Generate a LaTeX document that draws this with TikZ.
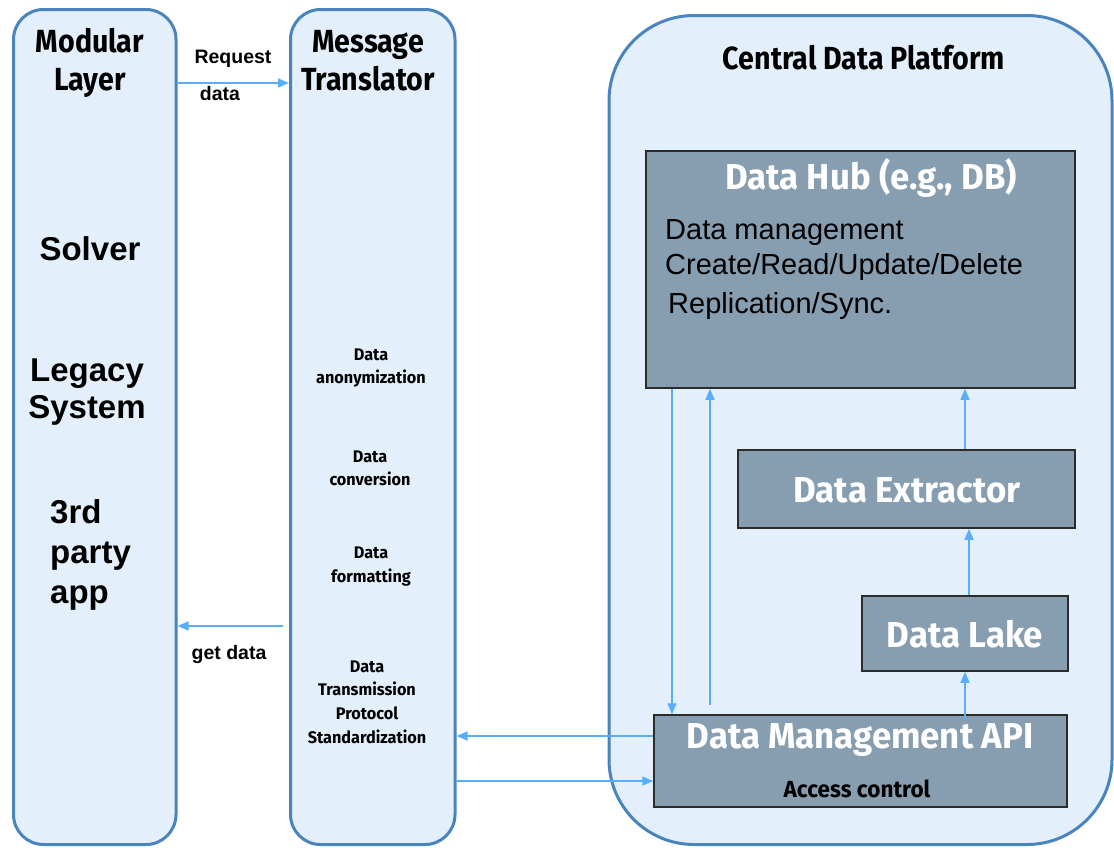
\documentclass[tikz,border=0pt]{standalone}
\usepackage{fontspec}
\setmainfont{Liberation Sans}
\newfontfamily\fira{Fira Sans}[FakeStretch=0.967]
\newfontfamily\firac{Fira Sans}[FakeStretch=0.895]
\usetikzlibrary{arrows.meta}
\definecolor{panelfill}{HTML}{E3F0FB}
\definecolor{panelline}{HTML}{4A84BF}
\definecolor{boxfill}{HTML}{879EB1}
\definecolor{boxline}{HTML}{2B2B2B}
\definecolor{arrowc}{HTML}{5AAEF7}
\tikzset{
  panel/.style={draw=panelline, line width=3pt, fill=panelfill, rounded corners=30pt, inner sep=0pt},
  bigpanel/.style={panel, rounded corners=85pt},
  darkbox/.style={draw=boxline, line width=1.5pt, fill=boxfill, inner sep=0pt},
  arr/.style={draw=arrowc, line width=1.6pt, -{Triangle[length=11pt,width=9pt]}},
  headtxt/.style={font=\firac\bfseries\fontsize{32}{36}\selectfont, anchor=base, inner sep=0pt},
  boxtitle/.style={font=\fira\bfseries\fontsize{36}{40}\selectfont, text=white, anchor=base, inner sep=0pt},
  acctxt/.style={font=\fira\bfseries\fontsize{23.3}{27}\selectfont, anchor=base, inner sep=0pt},
  smalltxt/.style={font=\fira\bfseries\fontsize{16.8}{21}\selectfont, anchor=base, inner sep=0pt},
  bigarial/.style={font=\bfseries\fontsize{33}{37}\selectfont, anchor=base, inner sep=0pt},
  lblarial/.style={font=\bfseries\fontsize{19.5}{22}\selectfont, anchor=base, inner sep=0pt},
  hubtxt/.style={font=\fontsize{29}{33}\selectfont, anchor=base west, inner sep=0pt},
}
\begin{document}
\begin{tikzpicture}[x=1pt,y=-1pt]
\useasboundingbox (0,0) rectangle (1114,847);
% panels
\node[panel, minimum width=162.5pt, minimum height=835pt] (ml) at (94.75,427) {};
\node[panel, minimum width=164.5pt, minimum height=835pt] (mt) at (372.75,427) {};
\node[bigpanel, minimum width=503pt, minimum height=829pt] (cdp) at (860.5,430) {};
% panel titles
\node[headtxt] (mlt1) at (90,52) {Modular};
\node[headtxt] (mlt2) at (90,90) {Layer};
\node[headtxt] (mtt1) at (368,52) {Message};
\node[headtxt] (mtt2) at (368,90) {Translator};
\node[headtxt] (cdpt) at (864,69) {Central Data Platform};
% modular layer items
\node[bigarial] (solver) at (90,260) {Solver};
\node[bigarial] (leg1) at (87,381) {Legacy};
\node[bigarial] (leg2) at (87,418) {System};
\node[bigarial, anchor=base west] (tp1) at (50,523) {3rd};
\node[bigarial, anchor=base west] (tp2) at (50,563) {party};
\node[bigarial, anchor=base west] (tp3) at (50,603) {app};
% translator items
\node[smalltxt] (an1) at (371,360) {Data};
\node[smalltxt] (an2) at (371,383) {anonymization};
\node[smalltxt] (cv1) at (370,462) {Data};
\node[smalltxt] (cv2) at (370,485) {conversion};
\node[smalltxt] (fm1) at (371,558) {Data};
\node[smalltxt] (fm2) at (371,582) {formatting};
\node[smalltxt] (tr1) at (367,672) {Data};
\node[smalltxt] (tr2) at (367,695) {Transmission};
\node[smalltxt] (tr3) at (367,719) {Protocol};
\node[smalltxt] (tr4) at (367,743) {Standardization};
% labels
\node[lblarial] (rq1) at (233,63) {Request};
\node[lblarial] (rq2) at (220,100) {data};
\node[lblarial] (gd) at (229,659) {get data};
% dark boxes
\node[darkbox, minimum width=429pt, minimum height=237pt] (hub) at (860.5,269.5) {};
\node[darkbox, minimum width=337pt, minimum height=78pt] (ext) at (906.5,489) {};
\node[darkbox, minimum width=206pt, minimum height=75pt] (lake) at (965,633.5) {};
\node[darkbox, minimum width=413pt, minimum height=92pt] (api) at (860.5,761) {};
\node[boxtitle] (hubt) at (871,189) {Data Hub (e.g., DB)};
\node[hubtxt] (h1) at (665,239) {Data management};
\node[hubtxt] (h2) at (665,274) {Create/Read/Update/Delete};
\node[hubtxt] (h3) at (668,313) {Replication/Sync.};
\node[boxtitle] (extt) at (907,502) {Data Extractor};
\node[boxtitle] (laket) at (965,647) {Data Lake};
\node[boxtitle] (apit) at (860,748) {Data Management API};
\node[acctxt] (acc) at (857,797) {Access control};
% helper coordinates
\coordinate (y83) at (0,83);
\coordinate (y626) at (0,626);
\coordinate (y736) at (0,736);
\coordinate (y781) at (0,781);
\coordinate (x672) at (672,0);
\coordinate (x710) at (710,0);
\coordinate (x965) at (965,0);
\coordinate (x969) at (969,0);
\coordinate (upstart) at (710,705);
% connectors
\draw[arr] (ml.east |- y83) -- (mt.west |- y83);
\draw[arr] ([xshift=-6pt]mt.west |- y626) -- (ml.east |- y626);
\draw[arr] (api.west |- y736) -- (mt.east |- y736);
\draw[arr] (mt.east |- y781) -- (api.west |- y781);
\draw[arr] (hub.south -| x672) -- (api.north -| x672);
\draw[arr] (upstart) -- (hub.south -| x710);
\draw[arr] ([yshift=-6pt]api.north -| x965) -- (lake.south -| x965);
\draw[arr] (lake.north -| x969) -- (ext.south -| x969);
\draw[arr] (ext.north -| x965) -- (hub.south -| x965);
\end{tikzpicture}
\end{document}
